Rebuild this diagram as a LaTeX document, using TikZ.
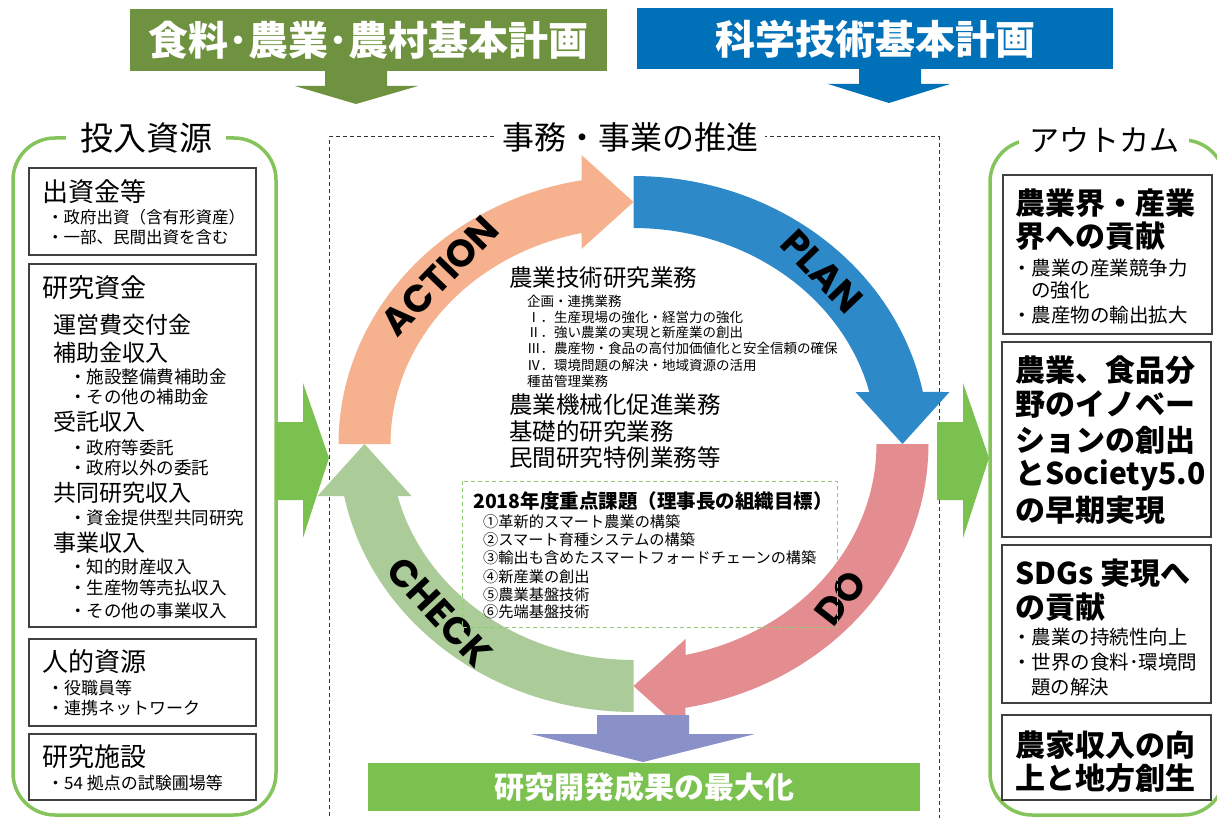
\documentclass[tikz,border=0pt]{standalone}
\usepackage{fontspec}
\setmainfont{Noto Sans CJK JP}
\newfontfamily\pdcafont{Poppins}
\definecolor{olivebn}{HTML}{6F9240}
\definecolor{sciblue}{HTML}{0070B9}
\definecolor{actc}{HTML}{F6B28E}
\definecolor{planc}{HTML}{2E89C9}
\definecolor{doc}{HTML}{E38D90}
\definecolor{chkc}{HTML}{ABCB98}
\definecolor{purp}{HTML}{8A91C8}
\definecolor{lgreen}{HTML}{7AC14F}
\definecolor{panelg}{HTML}{84C45A}
\definecolor{dashg}{HTML}{8FCB72}
\newcommand\fsz[1]{\fontsize{#1}{#1}\selectfont}
\begin{document}
\begin{tikzpicture}[x=1pt,y=-1pt,
  txt/.style={inner sep=0pt, anchor=west, text=black},
  fs/.style={font=\fsz{#1}},
  bfs/.style={font=\fsz{#1}\bfseries},
  pdca/.style={inner sep=0pt, text=black, font=\pdcafont\bfseries\fsz{38}},
  boxline/.style={draw=black!75, line width=1.3pt},
  panel/.style={draw=panelg, line width=3.5pt, rounded corners=42pt},
  gap/.style={fill=white, inner ysep=2pt, text=black}]
\useasboundingbox (0,0) rectangle (1217,818);

% ---------- top banners ----------
\fill[olivebn] (130,9) rectangle (607,71);
\node[inner sep=0pt, text=white, bfs=40] (food) at (368.5,40) {食料･農業･農村基本計画};
\fill[olivebn] (325,70) -- (387,70) -- (387,86) -- (418,86) -- (356,104) -- (295,86) -- (325,86) -- cycle;
\fill[sciblue] (637,8) rectangle (1113,69);
\node[inner sep=0pt, text=white, bfs=40] (sci) at (875,39) {科学技術基本計画};
\fill[sciblue] (859,68) -- (921,68) -- (921,84) -- (950,84) -- (889,103) -- (828,84) -- (859,84) -- cycle;

% ---------- central dashed frame ----------
\draw[black!80, line width=1pt, dash pattern=on 4pt off 3pt] (329,830) -- (329,137) -- (939,137) -- (939,830);
\node[gap, inner xsep=7pt, fs=32] (jimu) at (630,137) {事務・事業の推進};

% ---------- left panel ----------
\draw[panel] (13,138) rectangle (276,815);
\node[gap, inner xsep=14pt, fs=33] (input) at (146,138) {投入資源};

\draw[boxline] (29,168) rectangle (256,255);
\node[txt, fs=26] (l1) at (42,192) {出資金等};
\node[txt, fs=16.5] (l1a) at (47,217) {・政府出資（含有形資産）};
\node[txt, fs=16.5] (l1b) at (47,237) {・一部、民間出資を含む};

\draw[boxline] (29,264) rectangle (256,627);
\node[txt, fs=26] (l2) at (42,288) {研究資金};
\node[txt, fs=23] (l2a) at (53,325) {運営費交付金};
\node[txt, fs=23] (l2b) at (53,353) {補助金収入};
\node[txt, fs=17.5] (l2b1) at (69,377) {・施設整備費補助金};
\node[txt, fs=17.5] (l2b2) at (69,397) {・その他の補助金};
\node[txt, fs=23] (l2c) at (53,422) {受託収入};
\node[txt, fs=17.5] (l2c1) at (69,448) {・政府等委託};
\node[txt, fs=17.5] (l2c2) at (69,468) {・政府以外の委託};
\node[txt, fs=23] (l2d) at (53,493) {共同研究収入};
\node[txt, fs=17.5] (l2d1) at (69,518) {・資金提供型共同研究};
\node[txt, fs=23] (l2e) at (53,543) {事業収入};
\node[txt, fs=17.5] (l2e1) at (69,567) {・知的財産収入};
\node[txt, fs=17.5] (l2e2) at (69,588) {・生産物等売払収入};
\node[txt, fs=17.5] (l2e3) at (69,611) {・その他の事業収入};

\draw[boxline] (29,639) rectangle (256,726);
\node[txt, fs=26] (l3) at (42,662) {人的資源};
\node[txt, fs=17] (l3a) at (47,688) {・役職員等};
\node[txt, fs=17] (l3b) at (47,708) {・連携ネットワーク};

\draw[boxline] (29,734) rectangle (256,800);
\node[txt, fs=26] (l4) at (42,757) {研究施設};
\node[txt, fs=17] (l4a) at (47,783) {・54 拠点の試験圃場等};

% ---------- side arrows ----------
\fill[lgreen] (275,422) -- (303,422) -- (303,383) -- (329,458) -- (303,538) -- (303,500) -- (275,500) -- cycle;
\fill[lgreen] (937,422) -- (963,422) -- (963,383) -- (989,458) -- (963,538) -- (963,500) -- (937,500) -- cycle;

% ---------- right panel ----------
\draw[panel] (990,140) rectangle (1225,815);
\node[gap, inner xsep=10pt, fs=30] (outc) at (1104,140) {アウトカム};

\draw[boxline] (1003,175) rectangle (1212,334);
\node[txt, bfs=30] (r1) at (1015,203) {農業界・産業};
\node[txt, bfs=30] (r1b) at (1015,236) {界への貢献};
\node[txt, fs=19.5] (r1c) at (1012,268) {・農業の産業競争力};
\node[txt, fs=19.5] (r1d) at (1031,290) {の強化};
\node[txt, fs=19.5] (r1e) at (1012,315) {・農産物の輸出拡大};

\draw[boxline] (1002,342) rectangle (1211,537);
\node[txt, bfs=30] (r2) at (1015,370) {農業、食品分};
\node[txt, bfs=30] (r2b) at (1015,405) {野のイノベー};
\node[txt, bfs=30] (r2c) at (1015,440) {ションの創出};
\node[txt, bfs=30] (r2d) at (1015,475) {とSociety5.0};
\node[txt, bfs=30] (r2e) at (1015,510) {の早期実現};

\draw[boxline] (1002,545) rectangle (1211,703);
\node[txt, bfs=30] (r3) at (1015,573) {SDGs 実現へ};
\node[txt, bfs=30] (r3b) at (1015,607) {の貢献};
\node[txt, fs=19.5] (r3c) at (1012,637) {・農業の持続性向上};
\node[txt, fs=19.5] (r3d) at (1012,662) {・世界の食料･環境問};
\node[txt, fs=19.5] (r3e) at (1031,687) {題の解決};

\draw[boxline] (1002,715) rectangle (1211,800);
\node[txt, bfs=30] (r4) at (1015,745) {農家収入の向};
\node[txt, bfs=30] (r4b) at (1015,778) {上と地方創生};

% ---------- PDCA cycle ----------
\begin{scope}[shift={(633.5,444)}]
\fill[planc] plot[domain=270:348.81, samples=50] ({295*cos(\x)},{268*sin(\x)})
  -- (316,-52) -- (269,0) -- (222,-52)
  -- plot[domain=346.07:270, samples=50] ({243*cos(\x)},{216*sin(\x)}) -- cycle;
\fill[doc] plot[domain=0:79.85, samples=50] ({295*cos(\x)},{268*sin(\x)})
  -- (52,289) -- (0,242) -- (52,195)
  -- plot[domain=77.64:0, samples=50] ({243*cos(\x)},{216*sin(\x)}) -- cycle;
\fill[chkc] plot[domain=90:168.81, samples=50] ({295*cos(\x)},{268*sin(\x)})
  -- (-316,52) -- (-269,0) -- (-222,52)
  -- plot[domain=166.07:90, samples=50] ({243*cos(\x)},{216*sin(\x)}) -- cycle;
\fill[actc] plot[domain=180:259.85, samples=50] ({295*cos(\x)},{268*sin(\x)})
  -- (-52,-289) -- (0,-242) -- (-52,-195)
  -- plot[domain=257.64:180, samples=50] ({243*cos(\x)},{216*sin(\x)}) -- cycle;
\node[pdca, rotate=46] (act) at (224:269 and 242) {ACTION};
\node[pdca, rotate=-46] (plan) at (314.5:269 and 242) {PLAN};
\node[pdca, rotate=52] (do) at (39.5:269 and 242) {DO};
\node[pdca, rotate=-47] (chk) at (136:269 and 242) {CHECK};
\end{scope}

% ---------- central text ----------
\node[txt, fs=23.5] (c1) at (509,278) {農業技術研究業務};
\node[txt, fs=13.5] (c1a) at (527,301) {企画・連携業務};
\node[txt, fs=13.5] (c1b) at (527,317) {Ⅰ．生産現場の強化・経営力の強化};
\node[txt, fs=13.5] (c1c) at (527,332) {Ⅱ．強い農業の実現と新産業の創出};
\node[txt, fs=13.5] (c1d) at (527,348) {Ⅲ．農産物・食品の高付加価値化と安全信頼の確保};
\node[txt, fs=13.5] (c1e) at (527,365) {Ⅳ．環境問題の解決・地域資源の活用};
\node[txt, fs=13.5] (c1f) at (527,381) {種苗管理業務};
\node[txt, fs=23.5] (c2) at (509,405) {農業機械化促進業務};
\node[txt, fs=23.5] (c3) at (509,432) {基礎的研究業務};
\node[txt, fs=23.5] (c4) at (509,458) {民間研究特例業務等};

\draw[dashg, line width=1pt, dash pattern=on 4pt off 3pt] (462,481) rectangle (837,627);
\node[txt, bfs=19.5] (k0) at (473,501) {2018年度重点課題（理事長の組織目標）};
\node[txt, fs=15.2] (k1) at (483,522) {①革新的スマート農業の構築};
\node[txt, fs=15.2] (k2) at (483,540) {②スマート育種システムの構築};
\node[txt, fs=15.2] (k3) at (483,558) {③輸出も含めたスマートフォードチェーンの構築};
\node[txt, fs=15.2] (k4) at (483,577) {④新産業の創出};
\node[txt, fs=15.2] (k5) at (483,595) {⑤農業基盤技術};
\node[txt, fs=15.2] (k6) at (483,612) {⑥先端基盤技術};

% ---------- bottom ----------
\fill[purp] (597,715) -- (689,715) -- (689,734) -- (755,734) -- (643,762) -- (531,734) -- (597,734) -- cycle;
\fill[lgreen] (368,763) rectangle (920,811);
\node[inner sep=0pt, text=white, bfs=30] (result) at (644,787) {研究開発成果の最大化};
\end{tikzpicture}
\end{document}
